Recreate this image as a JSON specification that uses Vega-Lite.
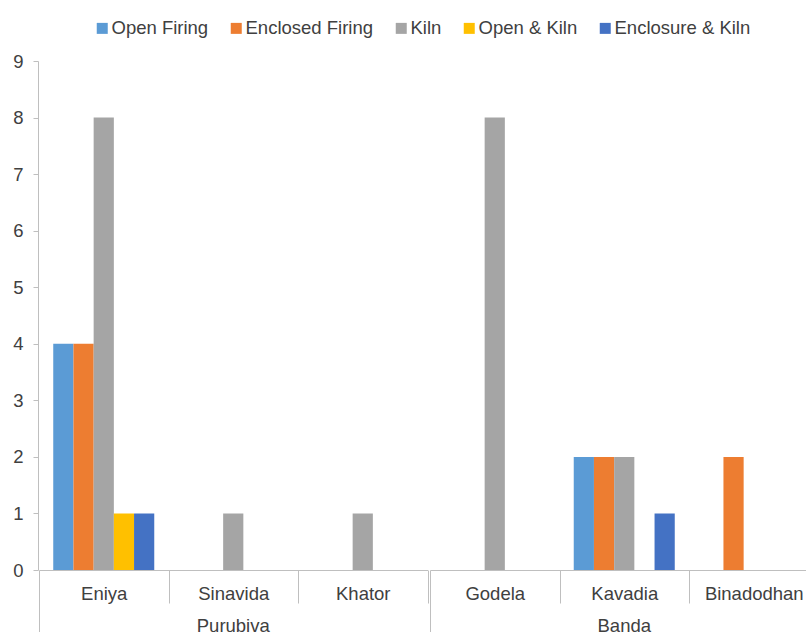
{
  "$schema": "https://vega.github.io/schema/vega-lite/v6.json",
  "padding": {"left": 12, "top": 19, "right": 0, "bottom": 0},
  "data": {
    "values": [
      {"region": "Purubiva", "village": "Eniya", "method": "Open Firing", "count": 4},
      {"region": "Purubiva", "village": "Eniya", "method": "Enclosed Firing", "count": 4},
      {"region": "Purubiva", "village": "Eniya", "method": "Kiln", "count": 8},
      {"region": "Purubiva", "village": "Eniya", "method": "Open & Kiln", "count": 1},
      {"region": "Purubiva", "village": "Eniya", "method": "Enclosure & Kiln", "count": 1},
      {"region": "Purubiva", "village": "Sinavida", "method": "Open Firing", "count": 0},
      {"region": "Purubiva", "village": "Sinavida", "method": "Enclosed Firing", "count": 0},
      {"region": "Purubiva", "village": "Sinavida", "method": "Kiln", "count": 1},
      {"region": "Purubiva", "village": "Sinavida", "method": "Open & Kiln", "count": 0},
      {"region": "Purubiva", "village": "Sinavida", "method": "Enclosure & Kiln", "count": 0},
      {"region": "Purubiva", "village": "Khator", "method": "Open Firing", "count": 0},
      {"region": "Purubiva", "village": "Khator", "method": "Enclosed Firing", "count": 0},
      {"region": "Purubiva", "village": "Khator", "method": "Kiln", "count": 1},
      {"region": "Purubiva", "village": "Khator", "method": "Open & Kiln", "count": 0},
      {"region": "Purubiva", "village": "Khator", "method": "Enclosure & Kiln", "count": 0},
      {"region": "Banda", "village": "Godela", "method": "Open Firing", "count": 0},
      {"region": "Banda", "village": "Godela", "method": "Enclosed Firing", "count": 0},
      {"region": "Banda", "village": "Godela", "method": "Kiln", "count": 8},
      {"region": "Banda", "village": "Godela", "method": "Open & Kiln", "count": 0},
      {"region": "Banda", "village": "Godela", "method": "Enclosure & Kiln", "count": 0},
      {"region": "Banda", "village": "Kavadia", "method": "Open Firing", "count": 2},
      {"region": "Banda", "village": "Kavadia", "method": "Enclosed Firing", "count": 2},
      {"region": "Banda", "village": "Kavadia", "method": "Kiln", "count": 2},
      {"region": "Banda", "village": "Kavadia", "method": "Open & Kiln", "count": 0},
      {"region": "Banda", "village": "Kavadia", "method": "Enclosure & Kiln", "count": 1},
      {"region": "Banda", "village": "Binadodhan", "method": "Open Firing", "count": 0},
      {"region": "Banda", "village": "Binadodhan", "method": "Enclosed Firing", "count": 2},
      {"region": "Banda", "village": "Binadodhan", "method": "Kiln", "count": 0},
      {"region": "Banda", "village": "Binadodhan", "method": "Open & Kiln", "count": 0},
      {"region": "Banda", "village": "Binadodhan", "method": "Enclosure & Kiln", "count": 0}
    ]
  },
  "facet": {
    "column": {
      "field": "region",
      "type": "nominal",
      "sort": ["Purubiva", "Banda"],
      "header": {
        "title": null,
        "labelOrient": "bottom",
        "labelFont": "Liberation Sans",
        "labelFontSize": 18.5,
        "labelColor": "#404040",
        "labelPadding": -16
      }
    }
  },
  "spacing": 0,
  "resolve": {"scale": {"x": "independent", "xOffset": "independent"}},
  "spec": {
    "width": 388.5,
    "height": 509,
    "mark": {"type": "bar"},
    "encoding": {
      "x": {
        "field": "village",
        "type": "nominal",
        "sort": null,
        "scale": {"paddingInner": 0, "paddingOuter": 0},
        "axis": {
          "title": null,
          "labelAngle": 0,
          "tickBand": "extent",
          "domainColor": "#BFBFBF",
          "tickColor": "#BFBFBF",
          "tickSize": {
            "condition": {"test": "datum.extra", "value": 62},
            "value": 33
          },
          "labelPadding": -19,
          "labelFontSize": 18.5,
          "labelColor": "#404040"
        }
      },
      "xOffset": {
        "field": "method",
        "type": "nominal",
        "sort": ["Open Firing", "Enclosed Firing", "Kiln", "Open & Kiln", "Enclosure & Kiln"],
        "scale": {"paddingInner": 0, "paddingOuter": 0.705}
      },
      "y": {
        "field": "count",
        "type": "quantitative",
        "scale": {"domain": [0, 9], "nice": false},
        "axis": {
          "title": null,
          "values": [0, 1, 2, 3, 4, 5, 6, 7, 8, 9],
          "grid": false,
          "domainColor": "#BFBFBF",
          "tickColor": "#BFBFBF",
          "tickSize": 5,
          "labelPadding": 10,
          "labelFontSize": 18.5,
          "labelColor": "#404040"
        }
      },
      "color": {
        "field": "method",
        "type": "nominal",
        "scale": {
          "domain": ["Open Firing", "Enclosed Firing", "Kiln", "Open & Kiln", "Enclosure & Kiln"],
          "range": ["#5B9BD5", "#ED7D31", "#A5A5A5", "#FFC000", "#4472C4"]
        },
        "legend": {
          "title": null,
          "orient": "none",
          "legendX": 54,
          "legendY": -42,
          "direction": "horizontal",
          "columns": 5,
          "symbolType": "square",
          "symbolSize": 121,
          "symbolStrokeWidth": 0,
          "labelFontSize": 18.5,
          "labelColor": "#404040",
          "labelOffset": 0,
          "columnPadding": 18
        }
      }
    }
  },
  "config": {
    "font": "Liberation Sans",
    "view": {"stroke": null}
  }
}
